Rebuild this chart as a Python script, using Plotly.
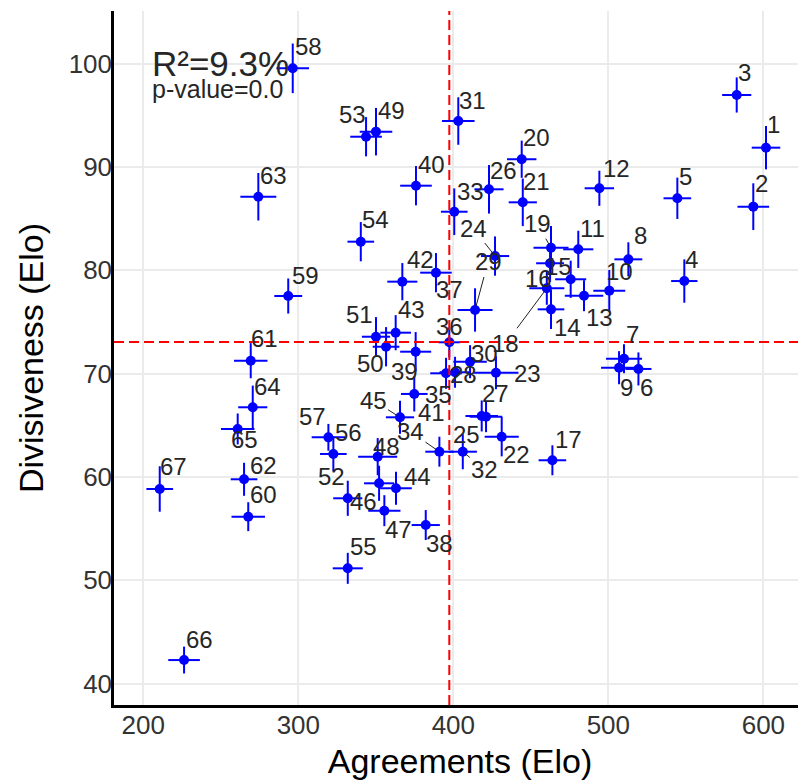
import plotly.graph_objects as go

labels = [str(i) for i in range(1, 68)]
agreements = [601.7, 593.5, 582.8, 549.0, 544.5, 519.4, 510.1, 512.9, 506.9, 500.6,
              480.6, 494.2, 484.3, 463.0, 475.7, 462.4, 463.9, 460.3, 463.0, 444.1,
              444.8, 431.2, 427.5, 426.9, 418.3, 423.0, 421.1, 401.1, 414.0, 410.8,
              403.2, 406.1, 400.6, 391.0, 395.3, 397.4, 388.8, 382.2, 375.7, 375.9,
              374.8, 367.1, 362.8, 363.0, 365.6, 352.1, 355.5, 351.2, 350.1, 356.6,
              350.1, 331.9, 343.7, 340.3, 331.9, 322.6, 319.4, 296.4, 293.5, 267.7,
              269.3, 265.0, 274.2, 270.6, 260.9, 226.3, 210.6]
divisiveness = [91.87, 86.16, 96.97, 78.96, 86.97, 70.45, 71.44, 81.06, 70.57, 78.03,
                82.03, 87.94, 77.54, 76.22, 79.13, 80.68, 61.61, 78.26, 82.19, 90.75,
                86.58, 63.89, 70.09, 81.38, 65.90, 87.84, 65.83, 70.13, 76.16, 71.15,
                94.45, 62.44, 85.67, 62.44, 70.03, 73.03, 79.77, 55.34, 72.12, 88.19,
                68.03, 78.90, 73.96, 58.90, 65.77, 59.38, 56.73, 61.96, 93.42, 72.60,
                73.57, 57.93, 92.93, 82.77, 51.15, 62.22, 63.83, 99.55, 77.51, 56.15,
                71.25, 59.77, 87.12, 66.74, 64.64, 42.27, 58.83]
agreements_err = [9.2, 10.2, 9.4, 8.5, 8.9, 8.4, 11.6, 9.0, 11.6, 10.3,
                  9.7, 9.5, 12.4, 8.6, 10.0, 9.0, 8.9, 11.3, 11.3, 9.5,
                  9.1, 11.0, 14.5, 9.1, 10.5, 9.4, 10.5, 10.0, 11.3, 10.8,
                  10.5, 9.1, 8.6, 9.1, 10.2, 7.0, 10.2, 9.1, 10.0, 10.2,
                  8.6, 9.7, 9.9, 10.2, 9.1, 9.7, 10.4, 12.6, 10.5, 8.6,
                  9.1, 9.4, 10.2, 8.6, 9.7, 8.6, 10.8, 10.5, 9.0, 10.8,
                  10.8, 8.6, 11.6, 9.4, 10.8, 10.2, 8.6]
divisiveness_err = [2.1, 2.26, 1.7, 2.1, 2.0, 1.6, 1.4, 1.65, 1.6, 2.0,
                    1.8, 1.7, 1.5, 1.9, 1.8, 1.8, 1.45, 1.6, 2.1, 1.8,
                    2.3, 1.9, 1.6, 1.9, 1.5, 2.35, 1.5, 1.5, 2.1, 1.6,
                    2.3, 1.7, 2.26, 1.45, 1.5, 1.45, 1.9, 1.45, 1.9, 1.9,
                    1.7, 1.8, 1.7, 1.6, 1.6, 1.7, 1.5, 1.8, 2.3, 1.9,
                    1.9, 1.7, 1.9, 1.9, 1.5, 1.7, 1.3, 2.4, 1.7, 1.4,
                    1.7, 1.6, 2.3, 2.1, 1.5, 1.3, 2.2]
# label offsets in pixels (dx right, dy down), and whether a connector segment is drawn
label_dx = [7, 8, 8, 7, 8, 8, 8, 12, 7, 10,
            14, 17, 15, 16, -12, -12, 16, -41, -14, 15,
            14, 15, 32, -22, -15, 15, 9, 8, 13, 14,
            14, 22, 16, -29, -8, 0, 14, 14, -11, 16,
            17, 18, 16, 22, -27, -16, 14, 9, 16, -16,
            -16, -16, -14, 15, 16, 15, -16, 16, 17, 15,
            14, 19, 15, 15, 7, 15, 14]
label_dy = [-23, -23, -22, -22, -22, 19, -24, -24, 20, -19,
            -21, -20, 22, 18, -13, 15, -21, 55, -24, -22,
            -21, 18, 1, -28, 19, -19, -23, 2, -48, -8,
            -21, 18, -20, -20, 21, -16, 17, 18, 20, -21,
            19, -22, -23, -12, -17, 18, 19, -10, -21, 17,
            -22, -22, -22, -22, -22, -21, -21, -22, -21, -22,
            -22, -14, -21, -21, 11, -21, -22]
segment_labels = ["15", "18", "19", "24", "29", "32", "34", "45", "41"]

mean_x = 397.4
mean_y = 73.05
stats_r2 = "R²=9.3%"
stats_p = "p-value=0.0"

BLUE = "#0000FF"
FONT = "Liberation Sans, Arial, sans-serif"
LABEL_SIZE = 24

fig = go.Figure()
fig.add_trace(go.Scatter(
    x=agreements, y=divisiveness, mode="markers",
    marker=dict(color=BLUE, size=10),
    error_x=dict(type="data", array=agreements_err, color=BLUE, thickness=2, width=0),
    error_y=dict(type="data", array=divisiveness_err, color=BLUE, thickness=2, width=0),
    showlegend=False, hoverinfo="skip"))

for lab, xv, yv, dx, dy in zip(labels, agreements, divisiveness, label_dx, label_dy):
    if lab in segment_labels:
        fig.add_annotation(x=xv, y=yv, text=lab, showarrow=True, ax=dx, ay=dy,
                           arrowhead=0, arrowwidth=1, arrowcolor="#222222", standoff=4,
                           font=dict(family=FONT, size=LABEL_SIZE, color="#262626"))
    else:
        fig.add_annotation(x=xv, y=yv, text=lab, showarrow=False, xshift=dx, yshift=-dy,
                           xanchor="center", yanchor="middle",
                           font=dict(family=FONT, size=LABEL_SIZE, color="#262626"))

fig.add_shape(type="line", x0=mean_x, x1=mean_x, y0=0, y1=1, xref="x", yref="paper",
              line=dict(color="#FF0000", width=2, dash="10px,5px"), layer="above")
fig.add_shape(type="line", x0=0, x1=1, y0=mean_y, y1=mean_y, xref="paper", yref="y",
              line=dict(color="#FF0000", width=2, dash="10px,5px"), layer="above")

fig.add_annotation(x=0.052, y=0.925, xref="paper", yref="paper", text=stats_r2,
                   showarrow=False, xanchor="left", yanchor="middle",
                   font=dict(family=FONT, size=35, color="#262626"))
fig.add_annotation(x=0.052, y=0.888, xref="paper", yref="paper", text=stats_p,
                   showarrow=False, xanchor="left", yanchor="middle",
                   font=dict(family=FONT, size=25, color="#262626"))

# the page body has an 8px margin, so the figure is sized to end at the window edge
fig.update_layout(
    width=798, height=776,
    margin=dict(l=106, r=0, t=3, b=79),
    paper_bgcolor="white", plot_bgcolor="white",
    font=dict(family=FONT),
    xaxis=dict(range=[181.1, 627.5], tickvals=[200, 300, 400, 500, 600],
               showgrid=True, gridcolor="#EBEBEB", gridwidth=1.5, zeroline=False,
               showline=True, linecolor="black", linewidth=2.5, automargin=False,
               ticklabelstandoff=-5,
               tickfont=dict(size=26, color="#333333"),
               title=dict(text="Agreements (Elo)", font=dict(size=34, color="black"), standoff=11)),
    yaxis=dict(range=[37.92, 105.1], tickvals=[40, 50, 60, 70, 80, 90, 100],
               showgrid=True, gridcolor="#EBEBEB", gridwidth=1.5, zeroline=False,
               showline=True, linecolor="black", linewidth=2.5, automargin=False,
               ticklabelstandoff=-6,
               tickfont=dict(size=26, color="#333333"),
               title=dict(text="Divisiveness (Elo)", font=dict(size=34, color="black"), standoff=15)),
)

fig.write_html("out.html")
